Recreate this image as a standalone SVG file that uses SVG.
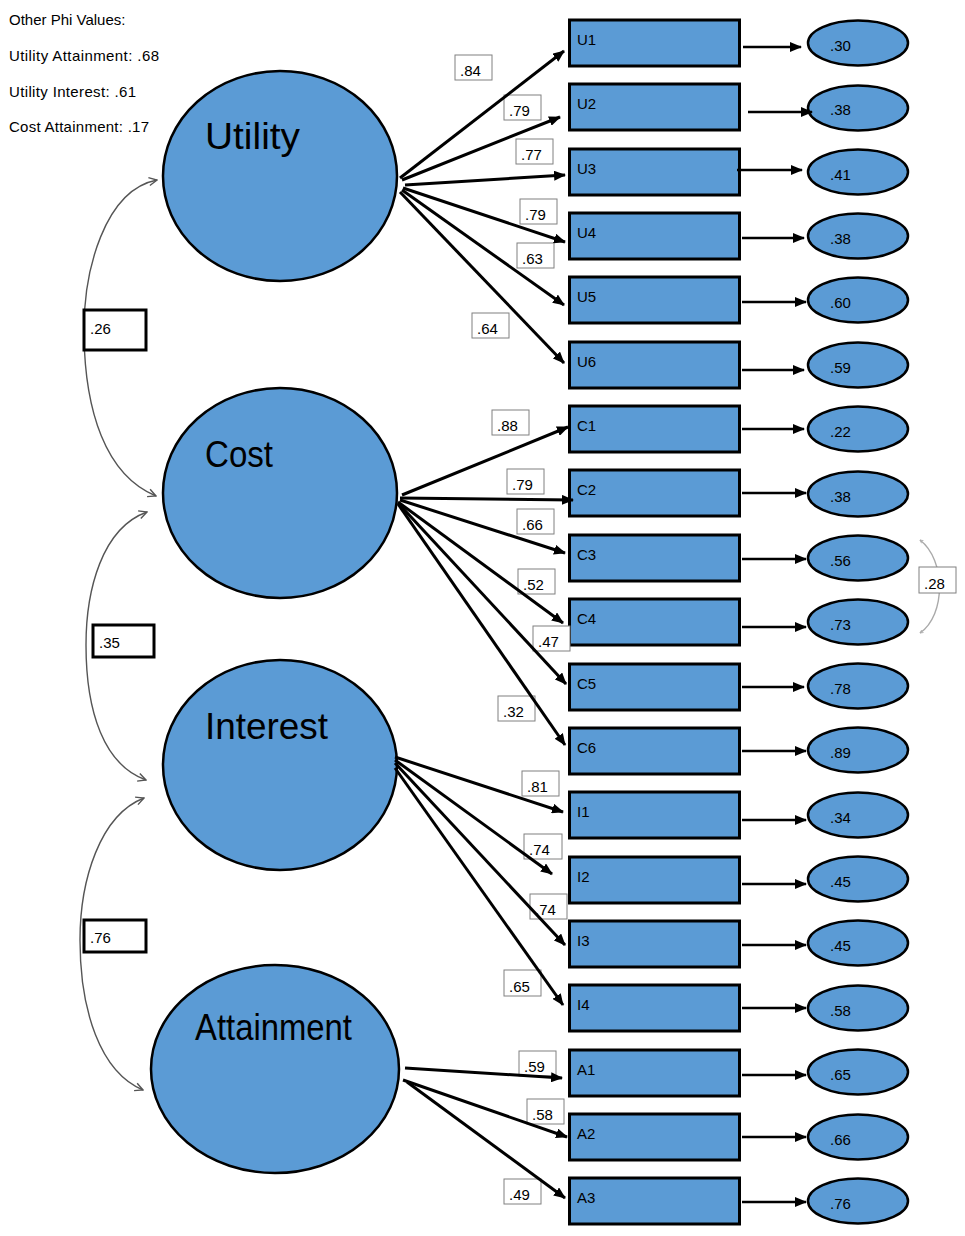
<svg xmlns="http://www.w3.org/2000/svg" width="965" height="1236" viewBox="0 0 965 1236">
  <defs>
    <marker id="ah" viewBox="0 0 12 10" refX="11" refY="5" markerWidth="12" markerHeight="10" markerUnits="userSpaceOnUse" orient="auto">
      <path d="M0,0 L12,5 L0,10 z" fill="#000"/>
    </marker>
    <marker id="oh" viewBox="0 0 10 10" refX="9" refY="5" markerWidth="10" markerHeight="10" markerUnits="userSpaceOnUse" orient="auto-start-reverse">
      <path d="M1,1 L9,5 L1,9" fill="none" stroke="#555" stroke-width="1.4"/>
    </marker>
    <marker id="oh2" viewBox="0 0 10 10" refX="9" refY="5" markerWidth="4" markerHeight="4" markerUnits="userSpaceOnUse" orient="auto-start-reverse">
      <path d="M1,1 L9,5 L1,9" fill="none" stroke="#aaa" stroke-width="2"/>
    </marker>
  </defs>
  <style>
    text { font-family: "Liberation Sans", Arial, sans-serif; fill: #000; }
    .t15 { font-size: 15px; }
    .latent { fill: #5B9BD5; stroke: #000; stroke-width: 2.5; }
    .lat-txt { font-size: 36px; }
    .ind { fill: #5B9BD5; stroke: #000; stroke-width: 3; }
    .err { fill: #5B9BD5; stroke: #000; stroke-width: 2.5; }
    .lbl { fill: #fff; stroke: #808080; stroke-width: 1; }
    .cbox { fill: #fff; stroke: #000; stroke-width: 3; }
    .load { stroke: #000; stroke-width: 3; fill: none; marker-end: url(#ah); }
    .earr { stroke: #000; stroke-width: 2.5; fill: none; marker-end: url(#ah); }
    .corr { stroke: #555; stroke-width: 1.4; fill: none; marker-start: url(#oh); marker-end: url(#oh); }
    .corr2 { stroke: #aaa; stroke-width: 1.4; fill: none; marker-start: url(#oh2); marker-end: url(#oh2); }
  </style>

  <!-- additional correlations -->
  <g id="phi-notes" class="t15">
    <text x="9" y="25">Other Phi Values:</text>
    <text x="9" y="61" textLength="150" lengthAdjust="spacing">Utility Attainment: .68</text>
    <text x="9" y="97" textLength="127" lengthAdjust="spacing">Utility Interest: .61</text>
    <text x="9" y="132" textLength="140" lengthAdjust="spacing">Cost Attainment: .17</text>
  </g>

  <!-- latent factors -->
  <g id="utility">
    <ellipse class="latent" cx="280" cy="176" rx="117" ry="105"/>
    <text class="lat-txt" x="205" y="149" textLength="95" lengthAdjust="spacingAndGlyphs">Utility</text>
  </g>
  <g id="cost">
    <ellipse class="latent" cx="280" cy="493" rx="117" ry="105"/>
    <text class="lat-txt" x="205" y="467" textLength="68" lengthAdjust="spacingAndGlyphs">Cost</text>
  </g>
  <g id="interest">
    <ellipse class="latent" cx="280" cy="765" rx="117" ry="105"/>
    <text class="lat-txt" x="205" y="739" textLength="123" lengthAdjust="spacingAndGlyphs">Interest</text>
  </g>
  <g id="attainment">
    <ellipse class="latent" cx="275" cy="1069" rx="124" ry="104"/>
    <text class="lat-txt" x="195" y="1040" textLength="157" lengthAdjust="spacingAndGlyphs">Attainment</text>
  </g>

  <!-- observed indicators -->
  <g id="u1"><rect class="ind" x="569.5" y="20" width="170" height="46"/><text class="t15" x="577" y="45">U1</text></g>
  <g id="u2"><rect class="ind" x="569.5" y="84" width="170" height="46"/><text class="t15" x="577" y="109">U2</text></g>
  <g id="u3"><rect class="ind" x="569.5" y="149" width="170" height="46"/><text class="t15" x="577" y="174">U3</text></g>
  <g id="u4"><rect class="ind" x="569.5" y="213" width="170" height="46"/><text class="t15" x="577" y="238">U4</text></g>
  <g id="u5"><rect class="ind" x="569.5" y="277" width="170" height="46"/><text class="t15" x="577" y="302">U5</text></g>
  <g id="u6"><rect class="ind" x="569.5" y="342" width="170" height="46"/><text class="t15" x="577" y="367">U6</text></g>
  <g id="c1"><rect class="ind" x="569.5" y="406" width="170" height="46"/><text class="t15" x="577" y="431">C1</text></g>
  <g id="c2"><rect class="ind" x="569.5" y="470" width="170" height="46"/><text class="t15" x="577" y="495">C2</text></g>
  <g id="c3"><rect class="ind" x="569.5" y="535" width="170" height="46"/><text class="t15" x="577" y="560">C3</text></g>
  <g id="c4"><rect class="ind" x="569.5" y="599" width="170" height="46"/><text class="t15" x="577" y="624">C4</text></g>
  <g id="c5"><rect class="ind" x="569.5" y="664" width="170" height="46"/><text class="t15" x="577" y="689">C5</text></g>
  <g id="c6"><rect class="ind" x="569.5" y="728" width="170" height="46"/><text class="t15" x="577" y="753">C6</text></g>
  <g id="i1"><rect class="ind" x="569.5" y="792" width="170" height="46"/><text class="t15" x="577" y="817">I1</text></g>
  <g id="i2"><rect class="ind" x="569.5" y="857" width="170" height="46"/><text class="t15" x="577" y="882">I2</text></g>
  <g id="i3"><rect class="ind" x="569.5" y="921" width="170" height="46"/><text class="t15" x="577" y="946">I3</text></g>
  <g id="i4"><rect class="ind" x="569.5" y="985" width="170" height="46"/><text class="t15" x="577" y="1010">I4</text></g>
  <g id="a1"><rect class="ind" x="569.5" y="1050" width="170" height="46"/><text class="t15" x="577" y="1075">A1</text></g>
  <g id="a2"><rect class="ind" x="569.5" y="1114" width="170" height="46"/><text class="t15" x="577" y="1139">A2</text></g>
  <g id="a3"><rect class="ind" x="569.5" y="1178" width="170" height="46"/><text class="t15" x="577" y="1203">A3</text></g>

  <!-- residual variances -->
  <g id="e-u1"><ellipse class="err" cx="858" cy="43" rx="50" ry="22.5"/><text class="t15" x="830" y="51">.30</text></g>
  <g id="e-u2"><ellipse class="err" cx="858" cy="108" rx="50" ry="22.5"/><text class="t15" x="830" y="115">.38</text></g>
  <g id="e-u3"><ellipse class="err" cx="858" cy="172" rx="50" ry="22.5"/><text class="t15" x="830" y="180">.41</text></g>
  <g id="e-u4"><ellipse class="err" cx="858" cy="236" rx="50" ry="22.5"/><text class="t15" x="830" y="244">.38</text></g>
  <g id="e-u5"><ellipse class="err" cx="858" cy="300" rx="50" ry="22.5"/><text class="t15" x="830" y="308">.60</text></g>
  <g id="e-u6"><ellipse class="err" cx="858" cy="365" rx="50" ry="22.5"/><text class="t15" x="830" y="373">.59</text></g>
  <g id="e-c1"><ellipse class="err" cx="858" cy="429" rx="50" ry="22.5"/><text class="t15" x="830" y="437">.22</text></g>
  <g id="e-c2"><ellipse class="err" cx="858" cy="494" rx="50" ry="22.5"/><text class="t15" x="830" y="502">.38</text></g>
  <g id="e-c3"><ellipse class="err" cx="858" cy="558" rx="50" ry="22.5"/><text class="t15" x="830" y="566">.56</text></g>
  <g id="e-c4"><ellipse class="err" cx="858" cy="622" rx="50" ry="22.5"/><text class="t15" x="830" y="630">.73</text></g>
  <g id="e-c5"><ellipse class="err" cx="858" cy="686" rx="50" ry="22.5"/><text class="t15" x="830" y="694">.78</text></g>
  <g id="e-c6"><ellipse class="err" cx="858" cy="750" rx="50" ry="22.5"/><text class="t15" x="830" y="758">.89</text></g>
  <g id="e-i1"><ellipse class="err" cx="858" cy="815" rx="50" ry="22.5"/><text class="t15" x="830" y="823">.34</text></g>
  <g id="e-i2"><ellipse class="err" cx="858" cy="879" rx="50" ry="22.5"/><text class="t15" x="830" y="887">.45</text></g>
  <g id="e-i3"><ellipse class="err" cx="858" cy="943" rx="50" ry="22.5"/><text class="t15" x="830" y="951">.45</text></g>
  <g id="e-i4"><ellipse class="err" cx="858" cy="1008" rx="50" ry="22.5"/><text class="t15" x="830" y="1016">.58</text></g>
  <g id="e-a1"><ellipse class="err" cx="858" cy="1072" rx="50" ry="22.5"/><text class="t15" x="830" y="1080">.65</text></g>
  <g id="e-a2"><ellipse class="err" cx="858" cy="1137" rx="50" ry="22.5"/><text class="t15" x="830" y="1145">.66</text></g>
  <g id="e-a3"><ellipse class="err" cx="858" cy="1201" rx="50" ry="22.5"/><text class="t15" x="830" y="1209">.76</text></g>

  <!-- loading labels -->
  <g id="loading-labels" class="t15">
    <rect class="lbl" x="455" y="55" width="37" height="25"/><text x="460" y="76">.84</text>
    <rect class="lbl" x="504" y="95" width="37" height="25"/><text x="509" y="116">.79</text>
    <rect class="lbl" x="516" y="139" width="37" height="25"/><text x="521" y="160">.77</text>
    <rect class="lbl" x="520" y="199" width="37" height="25"/><text x="525" y="220">.79</text>
    <rect class="lbl" x="517" y="243" width="37" height="25"/><text x="522" y="264">.63</text>
    <rect class="lbl" x="472" y="313" width="37" height="25"/><text x="477" y="334">.64</text>
    <rect class="lbl" x="492" y="410" width="37" height="25"/><text x="497" y="431">.88</text>
    <rect class="lbl" x="507" y="469" width="37" height="25"/><text x="512" y="490">.79</text>
    <rect class="lbl" x="517" y="509" width="37" height="25"/><text x="522" y="530">.66</text>
    <rect class="lbl" x="518" y="569" width="37" height="25"/><text x="523" y="590">.52</text>
    <rect class="lbl" x="533" y="626" width="37" height="25"/><text x="538" y="647">.47</text>
    <rect class="lbl" x="498" y="696" width="37" height="25"/><text x="503" y="717">.32</text>
    <rect class="lbl" x="522" y="771" width="37" height="25"/><text x="527" y="792">.81</text>
    <rect class="lbl" x="524" y="834" width="38" height="25"/><text x="529" y="855">.74</text>
    <rect class="lbl" x="530" y="894" width="37" height="25"/><text x="535" y="915">.74</text>
    <rect class="lbl" x="504" y="970" width="37" height="26"/><text x="509" y="992">.65</text>
    <rect class="lbl" x="519" y="1051" width="37" height="25"/><text x="524" y="1072">.59</text>
    <rect class="lbl" x="527" y="1099" width="37" height="25"/><text x="532" y="1120">.58</text>
    <rect class="lbl" x="504" y="1179" width="37" height="25"/><text x="509" y="1200">.49</text>
  </g>

  <g id="connectors">
    <!-- Utility loadings -->
    <line class="load" x1="400" y1="178" x2="564" y2="51"/>
    <line class="load" x1="402" y1="180" x2="560" y2="117"/>
    <line class="load" x1="405" y1="185" x2="565" y2="175"/>
    <line class="load" x1="403" y1="188" x2="565" y2="242"/>
    <line class="load" x1="402" y1="190" x2="564" y2="305"/>
    <line class="load" x1="400" y1="192" x2="564" y2="363"/>
    <!-- Cost loadings -->
    <line class="load" x1="402" y1="495" x2="568" y2="427"/>
    <line class="load" x1="400" y1="498" x2="573" y2="500"/>
    <line class="load" x1="400" y1="500" x2="565" y2="553"/>
    <line class="load" x1="398" y1="502" x2="563" y2="623"/>
    <line class="load" x1="398" y1="503" x2="566" y2="684"/>
    <line class="load" x1="398" y1="504" x2="565" y2="745"/>
    <!-- Interest loadings -->
    <line class="load" x1="395" y1="757" x2="563" y2="812"/>
    <line class="load" x1="395" y1="760" x2="552" y2="874"/>
    <line class="load" x1="395" y1="763" x2="565" y2="945"/>
    <line class="load" x1="395" y1="768" x2="563" y2="1005"/>
    <!-- Attainment loadings -->
    <line class="load" x1="405" y1="1068" x2="562" y2="1078"/>
    <line class="load" x1="403" y1="1080" x2="567" y2="1137"/>
    <line class="load" x1="407" y1="1082" x2="565" y2="1198"/>

    <!-- residual arrows -->
    <line class="earr" x1="743" y1="47" x2="801" y2="47"/>
    <line class="earr" x1="748" y1="112" x2="812" y2="112"/>
    <line class="earr" x1="737" y1="170" x2="802" y2="170"/>
    <line class="earr" x1="742" y1="238" x2="804" y2="238"/>
    <line class="earr" x1="742" y1="302" x2="806" y2="302"/>
    <line class="earr" x1="742" y1="370" x2="804" y2="370"/>
    <line class="earr" x1="742" y1="429" x2="804" y2="429"/>
    <line class="earr" x1="742" y1="493" x2="806" y2="493"/>
    <line class="earr" x1="742" y1="559" x2="806" y2="559"/>
    <line class="earr" x1="742" y1="627" x2="806" y2="627"/>
    <line class="earr" x1="742" y1="687" x2="804" y2="687"/>
    <line class="earr" x1="742" y1="751" x2="806" y2="751"/>
    <line class="earr" x1="742" y1="820" x2="806" y2="820"/>
    <line class="earr" x1="742" y1="884" x2="806" y2="884"/>
    <line class="earr" x1="742" y1="945" x2="806" y2="945"/>
    <line class="earr" x1="742" y1="1008" x2="806" y2="1008"/>
    <line class="earr" x1="742" y1="1075" x2="806" y2="1075"/>
    <line class="earr" x1="742" y1="1137" x2="806" y2="1137"/>
    <line class="earr" x1="742" y1="1202" x2="806" y2="1202"/>

    <!-- factor correlations -->
    <path class="corr" d="M157,180 C105,190 83,270 84,335 C85,410 105,475 156,496"/>
    <path class="corr" d="M147,512 C102,528 86,590 86,645 C86,712 104,765 146,780"/>
    <path class="corr" d="M144,798 C100,815 80,880 80,940 C80,1010 100,1072 143,1090"/>
    <!-- residual covariance C3-C4 -->
    <path class="corr2" d="M920,540 C946,560 946,615 920,633"/>
  </g>

  <!-- correlation labels -->
  <g id="corr-labels" class="t15">
    <rect class="cbox" x="84" y="310" width="62" height="40"/><text x="90" y="334">.26</text>
    <rect class="cbox" x="93" y="625" width="61" height="32"/><text x="99" y="648">.35</text>
    <rect class="cbox" x="84" y="920" width="62" height="32"/><text x="90" y="943">.76</text>
    <rect class="lbl" x="919" y="567" width="37" height="26"/><text x="924" y="589">.28</text>
  </g>
</svg>
